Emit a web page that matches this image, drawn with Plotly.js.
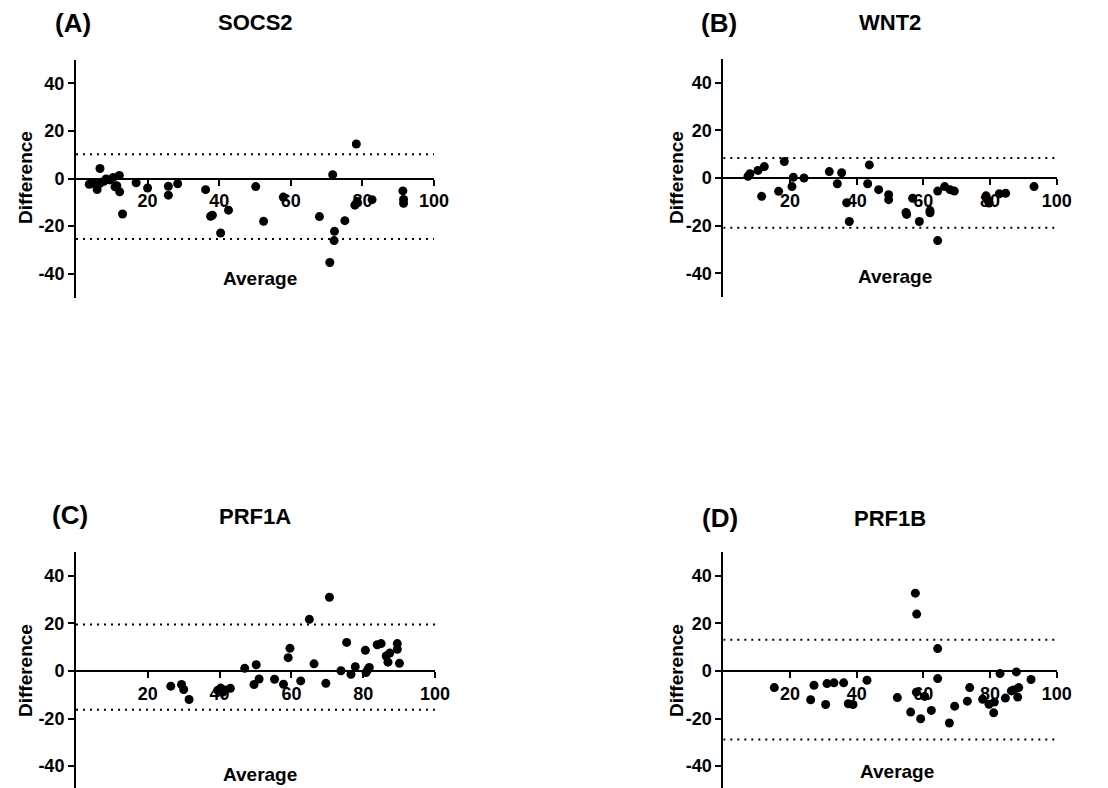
<!DOCTYPE html>
<html>
<head>
<meta charset="utf-8">
<script src="https://cdn.plot.ly/plotly-3.0.1.min.js"></script>
<style>
html,body{margin:0;padding:0;background:#fff;}
#chart{width:1108px;height:788px;}
</style>
</head>
<body>
<div id="chart"></div>
<script>
// ---- Data ----
const socs2X = [3.7, 4.8, 5.9, 6.7, 6.7, 7.8, 8.4, 9.5, 10.4, 10.9, 11.4, 12.1, 12.2, 13.0, 16.8, 20.0, 25.8, 25.8, 28.4, 36.2, 37.6, 38.1, 40.4, 42.6, 50.2, 52.4, 57.9, 68.0, 70.9, 71.7, 72.1, 72.2, 75.1, 77.9, 78.3, 78.5, 82.7, 91.3, 91.5, 91.5];
const socs2Y = [-2.4, -2.0, -4.6, 4.2, -2.0, -1.2, -0.2, -0.6, 0.4, -3.5, -3.0, 1.3, -5.6, -14.9, -1.8, -4.0, -3.3, -7.0, -2.2, -4.7, -15.9, -15.4, -22.9, -13.3, -3.4, -18.0, -7.8, -16.0, -35.3, 1.6, -26.1, -22.2, -17.7, -11.2, 14.5, -9.7, -8.9, -5.2, -8.8, -10.4];
const socs2Limits = [10.2, -25.4];

const wnt2X = [7.4, 8.0, 10.4, 12.3, 11.5, 16.6, 18.3, 21.0, 20.6, 24.2, 31.8, 34.2, 35.5, 37.0, 37.8, 43.3, 43.8, 46.6, 49.6, 49.6, 54.8, 55.0, 56.8, 58.8, 62.0, 62.0, 64.3, 64.3, 66.4, 68.0, 69.3, 78.8, 79.2, 79.7, 82.8, 84.7, 93.2];
const wnt2Y = [0.7, 1.8, 3.2, 4.8, -7.7, -5.6, 6.9, 0.3, -3.6, 0.0, 2.7, -2.4, 2.2, -10.4, -18.3, -2.4, 5.5, -4.9, -7.0, -9.1, -14.5, -15.3, -8.5, -18.3, -13.7, -14.6, -5.5, -26.3, -3.6, -4.9, -5.5, -7.5, -9.1, -10.5, -6.6, -6.4, -3.6];
const wnt2Limits = [8.4, -20.9];

const prf1aX = [26.4, 29.4, 30.0, 31.5, 39.5, 40.3, 40.8, 41.5, 43.0, 47.0, 50.2, 49.6, 51.0, 55.3, 57.8, 59.1, 59.6, 62.6, 65.0, 66.3, 69.6, 70.6, 73.8, 75.4, 76.6, 77.8, 80.6, 80.8, 81.3, 81.7, 83.9, 85.0, 86.4, 86.9, 87.4, 89.5, 89.5, 90.1];
const prf1aY = [-6.4, -5.7, -7.8, -12.0, -8.1, -7.2, -9.0, -8.0, -7.3, 1.1, 2.6, -5.7, -3.4, -3.5, -5.6, 5.6, 9.5, -4.2, 21.7, 3.0, -5.2, 31.0, 0.1, 12.0, -1.4, 1.8, 8.7, -0.7, 0.6, 1.5, 11.0, 11.5, 6.3, 3.7, 7.5, 11.5, 9.1, 3.2];
const prf1aLimits = [19.5, -16.3];

const prf1bX = [15.3, 26.2, 27.2, 30.7, 31.1, 33.2, 36.1, 37.5, 38.9, 43.1, 52.2, 56.2, 57.6, 58.0, 57.9, 59.2, 60.4, 62.4, 64.3, 64.3, 67.8, 69.4, 73.2, 73.9, 77.8, 79.7, 81.3, 81.1, 83.0, 84.6, 86.4, 87.1, 87.9, 88.6, 88.3, 92.3];
const prf1bY = [-7.0, -12.1, -6.0, -14.1, -5.3, -5.0, -5.0, -13.8, -14.1, -3.9, -11.2, -17.3, 32.7, 23.9, -8.9, -20.1, -10.7, -16.6, 9.4, -3.2, -21.9, -14.8, -12.7, -7.0, -11.9, -14.0, -13.1, -17.6, -1.1, -11.4, -8.4, -8.0, -0.4, -7.0, -11.0, -3.6];
const prf1bLimits = [13.1, -28.8];

const panelLetters = ['(A)', '(B)', '(C)', '(D)'];
const panelNames = ['SOCS2', 'WNT2', 'PRF1A', 'PRF1B'];
const xTickVals = [20, 40, 60, 80, 100];
const xTickText = ['20', '40', '60', '80', '100'];
const yTickVals = [-40, -20, 0, 20, 40];
const yTickText = ['-40', '-20', '0', '20', '40'];
const xTitle = 'Average';
const yTitle = 'Difference';

// ---- Layout (pixel geometry of the figure) ----
const W = 1108, H = 788;
const FONT = 'Liberation Sans, Arial, Helvetica, sans-serif';
const px = v => v / W;
const py = v => 1 - v / H;

const series = [
  {x: socs2X, y: socs2Y, lim: socs2Limits},
  {x: wnt2X, y: wnt2Y, lim: wnt2Limits},
  {x: prf1aX, y: prf1aY, lim: prf1aLimits},
  {x: prf1bX, y: prf1bY, lim: prf1bLimits}
];
const geo = [
  {xd: [76, 434],     yd: [59.5, 297.5], yr: [-50, 50],   letter: [72.5, 23], title: [255, 23],  xt: [260, 279], yt: [25, 178]},
  {xd: [723.3, 1056.7], yd: [59, 297],   yr: [-50, 50],   letter: [719, 23],  title: [890, 23],  xt: [895, 276], yt: [676, 178]},
  {xd: [76, 435],     yd: [552, 788],    yr: [-49.2, 50], letter: [70, 515],  title: [255, 516], xt: [260, 774], yt: [25, 671]},
  {xd: [723.3, 1056.7], yd: [552, 788],  yr: [-49.2, 50], letter: [720, 518], title: [890, 518], xt: [897, 771], yt: [676, 671]}
];

const traces = [];
const layout = {
  width: W, height: H,
  margin: {l: 0, r: 0, t: 0, b: 0, pad: 0},
  paper_bgcolor: '#fff', plot_bgcolor: 'rgba(0,0,0,0)',
  showlegend: false,
  font: {family: FONT, color: '#000'},
  shapes: [], annotations: []
};

series.forEach((s, i) => {
  const g = geo[i];
  const n = i === 0 ? '' : String(i + 1);
  const xa = 'x' + n, ya = 'y' + n;
  traces.push({
    type: 'scatter', mode: 'markers', x: s.x, y: s.y,
    xaxis: xa, yaxis: ya,
    marker: {color: '#000', size: 9, line: {width: 0}},
    cliponaxis: false, hoverinfo: 'x+y'
  });
  const yDom = [py(g.yd[1]), py(g.yd[0])];
  const zeroPos = yDom[0] + (0 - g.yr[0]) / (g.yr[1] - g.yr[0]) * (yDom[1] - yDom[0]);
  layout['xaxis' + n] = {
    domain: [px(g.xd[0]), px(g.xd[1])], range: [0, 100],
    anchor: 'free', position: zeroPos,
    showline: true, linecolor: '#000', linewidth: 2,
    ticks: 'outside', ticklen: 6, tickwidth: 2, tickcolor: '#000',
    tickmode: 'array', tickvals: xTickVals, ticktext: xTickText,
    tickfont: {family: FONT, size: 18, weight: 'bold', color: '#000'},
    showgrid: false, zeroline: false, layer: 'below traces', fixedrange: true
  };
  layout['yaxis' + n] = {
    domain: yDom, range: g.yr, anchor: xa,
    showline: true, linecolor: '#000', linewidth: 2,
    ticks: 'outside', ticklen: 6, tickwidth: 2, tickcolor: '#000',
    tickmode: 'array', tickvals: yTickVals, ticktext: yTickText,
    tickfont: {family: FONT, size: 18, weight: 'bold', color: '#000'},
    showgrid: false, zeroline: false, layer: 'below traces', fixedrange: true
  };
  s.lim.forEach(v => {
    layout.shapes.push({
      type: 'line', xref: xa, yref: ya, x0: 0, x1: 100, y0: v, y1: v,
      layer: 'below', line: {color: '#000', width: 2, dash: '2px,5px'}
    });
  });
  layout.annotations.push(
    {xref: 'paper', yref: 'paper', x: px(g.letter[0]), y: py(g.letter[1]), xanchor: 'center', yanchor: 'middle',
     text: panelLetters[i], showarrow: false, font: {family: FONT, size: 26, weight: 'bold', color: '#000'}},
    {xref: 'paper', yref: 'paper', x: px(g.title[0]), y: py(g.title[1]), xanchor: 'center', yanchor: 'middle',
     text: panelNames[i], showarrow: false, font: {family: FONT, size: 22, weight: 'bold', color: '#000'}},
    {xref: 'paper', yref: 'paper', x: px(g.xt[0]), y: py(g.xt[1]), xanchor: 'center', yanchor: 'middle',
     text: xTitle, showarrow: false, font: {family: FONT, size: 19, weight: 'bold', color: '#000'}},
    {xref: 'paper', yref: 'paper', x: px(g.yt[0]), y: py(g.yt[1]), xanchor: 'center', yanchor: 'middle',
     text: yTitle, textangle: -90, showarrow: false, font: {family: FONT, size: 19, weight: 'bold', color: '#000'}}
  );
});

Plotly.newPlot('chart', traces, layout, {staticPlot: true, displayModeBar: false});
</script>
</body>
</html>
